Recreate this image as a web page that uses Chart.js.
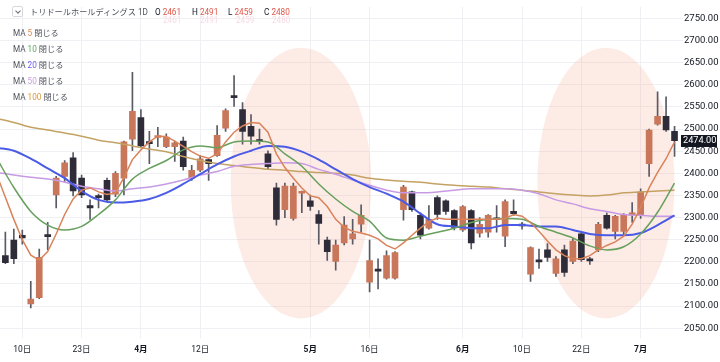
<!DOCTYPE html>
<html lang="ja">
<head>
<meta charset="utf-8">
<title>トリドールホールディングス 1D</title>
<script src="https://cdn.jsdelivr.net/npm/chart.js@4.4.1/dist/chart.umd.min.js"></script>
<style>
  html, body { margin: 0; padding: 0; background: #fff; }
  #wrap { position: relative; width: 720px; height: 362px; overflow: hidden; }
  #chart { position: absolute; left: 0; top: 0; }
  #legend { position: absolute; left: 0; top: 0; width: 720px; height: 120px; pointer-events: none;
    font-family: Roboto, "Noto Sans CJK JP", sans-serif; font-size: 8.2px; color: #50535e; }
  .row { position: absolute; white-space: nowrap; line-height: 12px; }
  .btn { position: absolute; left: 12px; top: 6px; width: 9px; height: 9px; border: 1px solid #d6d8de; border-radius: 2px; }
  .btn span { position: absolute; left: 2.5px; top: 1.5px; width: 3px; height: 3px; border-right: 1px solid #6a6d78; border-bottom: 1px solid #6a6d78; transform: rotate(45deg); }
  .k { color: #131722; }
  .v { color: #e0574a; }
  .ghost { color: #f7dbe5; }
</style>
</head>
<body>
<div id="wrap">
  <canvas id="chart" width="720" height="362"></canvas>
  <div id="legend"></div>
</div>
<script>
// daily candles
const candleOpen = [2214, 2249, 2260, 2105, 2119, 2259, 2351, 2393, 2435, 2389,
  2327, 2347, 2384, 2353, 2389, 2477, 2526, 2469, 2481, 2460,
  2460, 2473, 2389, 2407, 2431, 2440, 2502, 2573, 2544, 2506,
  2474, 2444, 2367, 2318, 2298, 2355, 2338, 2307, 2249, 2201,
  2243, 2252, 2285, 2154, 2181, 2163, 2163, 2318, 2358, 2305,
  2276, 2345, 2338, 2316, 2272, 2316, 2265, 2267, 2297, 2258,
  2314, 2284, 2172, 2202, 2227, 2174, 2227, 2201, 2263, 2204,
  2227, 2305, 2269, 2269, 2306, 2305, 2422, 2511, 2529, 2495];
const candleHigh = [2267, 2274, 2272, 2156, 2229, 2289, 2393, 2429, 2447, 2396,
  2340, 2353, 2389, 2404, 2473, 2628, 2544, 2495, 2504, 2489,
  2473, 2482, 2418, 2440, 2433, 2508, 2546, 2621, 2560, 2533,
  2500, 2451, 2378, 2378, 2378, 2360, 2351, 2316, 2256, 2249,
  2302, 2296, 2329, 2249, 2207, 2225, 2223, 2373, 2360, 2311,
  2327, 2349, 2340, 2318, 2327, 2318, 2300, 2307, 2327, 2340,
  2340, 2289, 2234, 2229, 2241, 2212, 2238, 2252, 2267, 2210,
  2289, 2311, 2305, 2309, 2334, 2365, 2500, 2584, 2573, 2506];
const candleLow = [2196, 2196, 2240, 2096, 2117, 2227, 2322, 2382, 2349, 2345,
  2296, 2322, 2336, 2347, 2351, 2451, 2460, 2422, 2460, 2458,
  2427, 2407, 2384, 2404, 2384, 2438, 2495, 2551, 2466, 2466,
  2466, 2409, 2283, 2300, 2294, 2311, 2316, 2240, 2203, 2181,
  2238, 2240, 2267, 2132, 2139, 2161, 2161, 2294, 2314, 2252,
  2274, 2296, 2307, 2272, 2269, 2229, 2256, 2256, 2267, 2234,
  2305, 2274, 2156, 2185, 2201, 2167, 2167, 2196, 2201, 2194,
  2223, 2274, 2252, 2260, 2289, 2298, 2393, 2509, 2495, 2438];
const candleClose = [2198, 2207, 2254, 2116, 2210, 2257, 2389, 2424, 2360, 2351,
  2322, 2345, 2340, 2400, 2471, 2540, 2462, 2467, 2482, 2482,
  2469, 2415, 2407, 2433, 2422, 2486, 2542, 2571, 2495, 2484,
  2472, 2415, 2296, 2371, 2371, 2357, 2325, 2287, 2223, 2238,
  2283, 2263, 2305, 2203, 2179, 2214, 2221, 2369, 2318, 2260,
  2296, 2307, 2314, 2278, 2325, 2243, 2285, 2305, 2295, 2336,
  2309, 2281, 2232, 2200, 2210, 2207, 2176, 2247, 2205, 2202,
  2285, 2276, 2303, 2307, 2308, 2358, 2498, 2529, 2498, 2474];

// moving averages (MA5 at every bar, the rest every second bar)
const ma5 = [2396, 2346, 2296, 2250, 2215, 2204, 2223, 2263, 2307, 2342, 2362,
  2367, 2358, 2352, 2356, 2391, 2431, 2453, 2471, 2484, 2483,
  2473, 2461, 2449, 2439, 2434, 2444, 2471, 2493, 2507, 2515,
  2513, 2493, 2444, 2413, 2389, 2367, 2349, 2345, 2325, 2296,
  2278, 2269, 2265, 2260, 2252, 2237, 2229, 2243, 2260, 2276,
  2291, 2299, 2296, 2296, 2296, 2296, 2296, 2296, 2296, 2298,
  2307, 2303, 2289, 2269, 2247, 2227, 2214, 2207, 2207, 2214,
  2227, 2237, 2245, 2258, 2285, 2323, 2367, 2402, 2433, 2471];
const ma10 = [2433, 2368, 2314, 2283, 2272, 2280, 2307, 2340, 2387, 2411, 2429,
  2453, 2462, 2458, 2471, 2473, 2471, 2444, 2416, 2376, 2342,
  2314, 2292, 2254, 2249, 2258, 2267, 2276, 2289, 2296, 2298,
  2296, 2280, 2267, 2254, 2236, 2227, 2234, 2263, 2312, 2378];
const ma20 = [2458, 2451, 2433, 2411, 2389, 2360, 2340, 2334, 2336, 2342, 2356,
  2376, 2398, 2420, 2438, 2451, 2462, 2460, 2449, 2431, 2409,
  2387, 2369, 2354, 2336, 2309, 2285, 2280, 2276, 2276, 2283,
  2283, 2280, 2280, 2272, 2263, 2260, 2260, 2265, 2283, 2305];
const ma50 = [2402, 2396, 2391, 2387, 2380, 2371, 2365, 2360, 2365, 2369, 2376,
  2385, 2396, 2404, 2416, 2420, 2422, 2424, 2422, 2409, 2398,
  2385, 2373, 2362, 2356, 2356, 2358, 2362, 2365, 2365, 2365,
  2362, 2354, 2340, 2331, 2320, 2314, 2307, 2305, 2303, 2303];
const ma100 = [2524, 2515, 2504, 2498, 2491, 2484, 2475, 2469, 2462, 2455, 2449,
  2438, 2429, 2422, 2418, 2413, 2409, 2407, 2404, 2402, 2400,
  2396, 2389, 2385, 2382, 2380, 2376, 2373, 2371, 2369, 2365,
  2362, 2358, 2354, 2351, 2349, 2351, 2356, 2358, 2360, 2362];
const ma5Idx = Array.from({ length: ma5.length }, (_, k) => k - 1);
const maIdx = Array.from({ length: ma10.length }, (_, k) => 2 * k - 1);

const xTickIdx = [2, 9, 16, 23, 36, 43, 54, 61, 68, 75];
const xTickText = ["10日", "23日", "4月", "12日", "5月", "16日", "6月", "10日", "22日", "7月"];
const yTicks = [2050, 2100, 2150, 2200, 2250, 2300, 2350, 2400, 2450, 2500, 2550, 2600, 2650, 2700, 2750];

// highlighted zones (bar index range, price range)
const zoneFrom = [26.6, 62.8];
const zoneTo = [43.2, 79.0];
const zoneTop = [2684, 2684];
const zoneBottom = [2072, 2072];

const headerKeys = ["O", "H", "L", "C"];
const headerValues = [2461, 2491, 2459, 2480];
const maPeriods = [5, 10, 20, 50, 100];

const FONT = 'Roboto, "Noto Sans CJK JP", sans-serif';
const UP = "#c8775a";
const DOWN = "#2d2c38";
const WICK = "#5a5a64";
const GRID = "#eef0f3";
const maColors = ["#d9835a", "#67a05c", "#4b5be6", "#c79be4", "#c4a264"];
const maLabelColors = ["#e0894c", "#5fa65f", "#6a5cf0", "#c9a0e0", "#d99a3c"];

function buildLegend() {
  const el = document.getElementById("legend");
  let html = '<div class="btn"><span></span></div>';
  html += '<div class="row" style="left:30px;top:6px">トリドールホールディングス 1D</div>';
  const lefts = [155, 192, 228, 264];
  headerKeys.forEach((k, i) => {
    html += `<div class="row" style="left:${lefts[i]}px;top:6px"><span class="k">${k}</span> <span class="v">${headerValues[i]}</span></div>`;
    html += `<div class="row ghost" style="left:${lefts[i] + 8}px;top:14px">${headerValues[i]}</div>`;
  });
  maPeriods.forEach((p, i) => {
    html += `<div class="row" style="left:13px;top:${27 + i * 16}px">MA <span style="color:${maLabelColors[i]}">${p}</span> 閉じる</div>`;
  });
  el.innerHTML = html;
}

const zonePlugin = {
  id: "zones",
  beforeDatasetsDraw(chart) {
    const { ctx, chartArea, scales } = chart;
    ctx.save();
    ctx.beginPath();
    ctx.rect(chartArea.left, chartArea.top, chartArea.width, chartArea.height);
    ctx.clip();
    ctx.fillStyle = "rgba(247, 172, 150, 0.24)";
    zoneFrom.forEach((from, i) => {
      const x1 = scales.x.getPixelForValue(from);
      const x2 = scales.x.getPixelForValue(zoneTo[i]);
      const y1 = scales.y.getPixelForValue(zoneTop[i]);
      const y2 = scales.y.getPixelForValue(zoneBottom[i]);
      ctx.beginPath();
      ctx.ellipse((x1 + x2) / 2, (y1 + y2) / 2, (x2 - x1) / 2, (y2 - y1) / 2, 0, 0, Math.PI * 2);
      ctx.fill();
    });
    ctx.restore();
  }
};

const priceTagPlugin = {
  id: "priceTag",
  afterDraw(chart) {
    const { ctx, chartArea, scales } = chart;
    const last = candleClose[candleClose.length - 1];
    const y = scales.y.getPixelForValue(last);
    ctx.save();
    ctx.fillStyle = "#131722";
    ctx.fillRect(chartArea.right - 2, Math.round(y) - 6, 36, 12);
    ctx.fillStyle = "#ffffff";
    ctx.font = `9.2px ${FONT}`;
    ctx.textAlign = "left";
    ctx.textBaseline = "middle";
    ctx.fillText(last.toFixed(2), chartArea.right, y);
    ctx.restore();
  }
};

function lineSet(idx, values, color, width, order, smooth) {
  return {
    type: "line",
    data: values.map((v, k) => ({ x: idx[k], y: v })),
    borderColor: color,
    borderWidth: width,
    pointRadius: 0,
    tension: 0,
    cubicInterpolationMode: smooth ? "monotone" : "default",
    order
  };
}

function render() {
  buildLegend();
  const bodyColor = (c) => (c.raw && c.raw.y[1] >= c.raw.y[0] ? UP : DOWN);

  new Chart(document.getElementById("chart"), {
    type: "bar",
    data: {
      datasets: [
        {
          data: candleHigh.map((h, i) => ({ x: i, y: [candleLow[i], h] })),
          backgroundColor: WICK,
          barThickness: 1,
          grouped: false,
          order: 7
        },
        {
          data: candleOpen.map((o, i) => ({ x: i, y: [o, candleClose[i]] })),
          backgroundColor: bodyColor,
          barThickness: 6,
          minBarLength: 2,
          grouped: false,
          order: 6
        },
        lineSet(maIdx, ma100, maColors[4], 1.5, 5, true),
        lineSet(maIdx, ma50, maColors[3], 1.5, 4, true),
        lineSet(maIdx, ma20, maColors[2], 2, 3, true),
        lineSet(maIdx, ma10, maColors[1], 1.5, 2, true),
        lineSet(ma5Idx, ma5, maColors[0], 1.5, 1, false)
      ]
    },
    options: {
      responsive: false,
      animation: false,
      layout: { padding: 0 },
      plugins: { legend: { display: false }, tooltip: { enabled: false } },
      scales: {
        x: {
          type: "linear",
          offset: false,
          min: -0.633,
          max: 80,
          afterBuildTicks: (scale) => { scale.ticks = xTickIdx.map((v) => ({ value: v })); },
          afterFit: (scale) => { scale.height = 24; },
          grid: { color: GRID, drawTicks: false, offset: false },
          border: { display: false },
          ticks: {
            autoSkip: false,
            maxRotation: 0,
            padding: 7,
            color: "#131722",
            font: (c) => {
              const label = xTickText[xTickIdx.indexOf(c.tick ? c.tick.value : -99)] || "";
              return { family: FONT, size: 8.5, weight: label.includes("月") ? "bold" : "normal" };
            },
            callback: (v) => xTickText[xTickIdx.indexOf(v)] || ""
          }
        },
        y: {
          position: "right",
          min: 2027.85,
          max: 2776.6,
          afterBuildTicks: (scale) => { scale.ticks = yTicks.map((v) => ({ value: v })); },
          afterFit: (scale) => { scale.width = 37; },
          grid: { color: GRID, drawTicks: false },
          border: { display: false },
          ticks: {
            padding: 1,
            color: "#131722",
            font: { family: FONT, size: 9.5 },
            callback: (v) => Number(v).toFixed(2)
          }
        }
      }
    },
    plugins: [zonePlugin, priceTagPlugin]
  });
}

render();
</script>
</body>
</html>
